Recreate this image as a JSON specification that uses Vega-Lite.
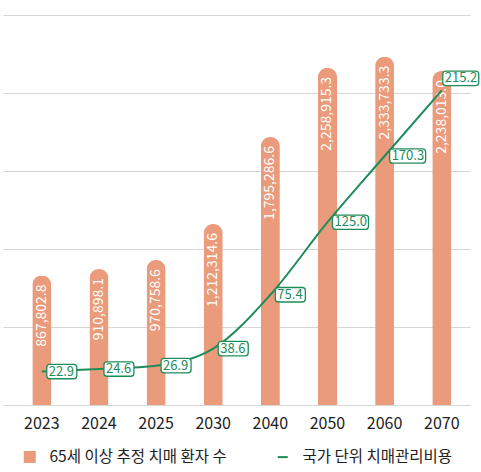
{
  "$schema": "https://vega.github.io/schema/vega-lite/v6.json",
  "width": 467,
  "height": 405,
  "autosize": "none",
  "padding": {"left": 3, "top": 0, "right": 11, "bottom": 67},
  "background": "white",
  "config": {"view": {"stroke": null}, "font": "Noto Sans CJK KR"},
  "data": {
    "values": [
      {"year": "2023", "patients": 867802.8, "cost": 22.9},
      {"year": "2024", "patients": 910898.1, "cost": 24.6},
      {"year": "2025", "patients": 970758.6, "cost": 26.9},
      {"year": "2030", "patients": 1212314.6, "cost": 38.6},
      {"year": "2040", "patients": 1795286.6, "cost": 75.4},
      {"year": "2050", "patients": 2258915.3, "cost": 125.0},
      {"year": "2060", "patients": 2333733.3, "cost": 170.3},
      {"year": "2070", "patients": 2238013.0, "cost": 215.2}
    ]
  },
  "encoding": {
    "x": {
      "field": "year", "type": "ordinal", "sort": null,
      "scale": {"paddingInner": 0.667, "paddingOuter": 0.42, "align": 0.61},
      "axis": {
        "title": null, "labelAngle": 0, "ticks": false, "domain": false,
        "labelFontSize": 16, "labelColor": "#222222", "labelPadding": 10
      }
    }
  },
  "layer": [
    {
      "encoding": {
        "y": {
          "field": "patients", "type": "quantitative",
          "scale": {"domain": [0, 2713500], "nice": false, "zero": true},
          "axis": {
            "title": null, "labels": false, "ticks": false, "domain": false,
            "values": [0, 522600, 1045200, 1567800, 2090400, 2613000],
            "gridColor": "#d6d6d6", "gridWidth": 1
          }
        }
      },
      "layer": [
        {
          "mark": {"type": "bar", "cornerRadiusTopLeft": 9.5, "cornerRadiusTopRight": 9.5},
          "encoding": {
            "color": {
              "datum": "65세 이상 추정 치매 환자 수", "type": "nominal",
              "scale": {
                "domain": ["65세 이상 추정 치매 환자 수", "국가 단위 치매관리비용"],
                "range": ["#EA9B7B", "#1E8C5A"]
              },
              "legend": {
                "orient": "none", "legendX": 19, "legendY": 449,
                "direction": "horizontal", "columns": 2, "columnPadding": 46,
                "title": null, "labelFontSize": 15.5, "labelColor": "#222222",
                "labelLimit": 300, "symbolSize": 100, "labelOffset": 12,
                "encode": {
                  "symbols": {
                    "update": {
                      "shape": {"signal": "datum.value === '국가 단위 치매관리비용' ? 'stroke' : 'square'"},
                      "fill": {"signal": "datum.value === '국가 단위 치매관리비용' ? 'transparent' : '#EA9B7B'"},
                      "stroke": {"signal": "datum.value === '국가 단위 치매관리비용' ? '#1E8C5A' : 'transparent'"},
                      "strokeWidth": {"value": 2},
                      "opacity": {"value": 1}
                    }
                  }
                }
              }
            }
          }
        },
        {
          "mark": {"type": "text", "angle": 270, "align": "right", "baseline": "middle", "dx": -9, "color": "white", "fontSize": 14},
          "encoding": {"text": {"field": "patients", "type": "quantitative", "format": ",.1f"}}
        }
      ]
    },
    {
      "encoding": {
        "y": {
          "field": "cost", "type": "quantitative",
          "scale": {"domain": [0, 277], "nice": false},
          "axis": null
        }
      },
      "layer": [
        {
          "mark": {"type": "line", "interpolate": "monotone", "strokeWidth": 2},
          "encoding": {"color": {"datum": "국가 단위 치매관리비용", "type": "nominal"}}
        },
        {
          "transform": [{"filter": "datum.year !== '2070'"}],
          "mark": {"type": "point", "filled": true, "fill": "white", "stroke": "#1E8C5A", "strokeWidth": 1.3, "opacity": 1, "xOffset": 5},
          "encoding": {
            "shape": {
              "condition": {"test": "datum.cost >= 100", "value": "M0.1714,-0.4 H1.8286 Q2,-0.4 2,-0.2286 V0.2286 Q2,0.4 1.8286,0.4 H0.1714 Q0,0.4 0,0.2286 V-0.2286 Q0,-0.4 0.1714,-0.4 Z"},
              "value": "M0.2069,-0.4828 H1.7931 Q2,-0.4828 2,-0.2759 V0.2759 Q2,0.4828 1.7931,0.4828 H0.2069 Q0,0.4828 0,0.2759 V-0.2759 Q0,-0.4828 0.2069,-0.4828 Z"
            },
            "size": {"condition": {"test": "datum.cost >= 100", "value": 1296}, "value": 900}
          }
        },
        {
          "transform": [{"filter": "datum.year !== '2070'"}],
          "mark": {"type": "text", "align": "left", "baseline": "middle", "dx": 7, "color": "#1E8C5A", "fontSize": 13},
          "encoding": {"text": {"field": "cost", "type": "quantitative", "format": ".1f"}}
        },
        {
          "transform": [{"filter": "datum.year === '2070'"}],
          "mark": {"type": "point", "filled": true, "fill": "white", "stroke": "#1E8C5A", "strokeWidth": 1.3, "opacity": 1, "xOffset": 1, "yOffset": -12, "size": 1296, "shape": "M0.1714,-0.4 H1.8286 Q2,-0.4 2,-0.2286 V0.2286 Q2,0.4 1.8286,0.4 H0.1714 Q0,0.4 0,0.2286 V-0.2286 Q0,-0.4 0.1714,-0.4 Z"}
        },
        {
          "transform": [{"filter": "datum.year === '2070'"}],
          "mark": {"type": "text", "align": "left", "baseline": "middle", "dx": 3, "dy": -12, "color": "#1E8C5A", "fontSize": 13},
          "encoding": {"text": {"field": "cost", "type": "quantitative", "format": ".1f"}}
        }
      ]
    }
  ],
  "resolve": {"scale": {"y": "independent"}}
}
